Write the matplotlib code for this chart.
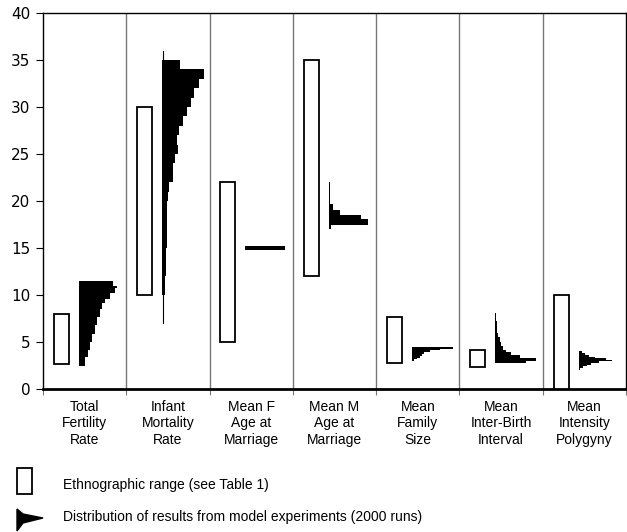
import numpy as np
import matplotlib
matplotlib.use("Agg")
import matplotlib.pyplot as plt
from matplotlib.patches import Rectangle, Polygon
from matplotlib.transforms import blended_transform_factory

# Categories (x axis)
categories = ["Total\nFertility\nRate", "Infant\nMortality\nRate", "Mean F\nAge at\nMarriage",
              "Mean M\nAge at\nMarriage", "Mean\nFamily\nSize", "Mean\nInter-Birth\nInterval",
              "Mean\nIntensity\nPolygyny"]

# Ethnographic ranges (see Table 1)
ethno_low = [2.7, 10, 5, 12, 2.8, 2.3, 0]
ethno_high = [8, 30, 22, 35, 7.7, 4.1, 10]

# Model result distributions: bin edges (y) and relative frequency per bin
tfr_edges = [2.5, 3.4, 4.1, 5.0, 5.9, 6.8, 7.7, 8.5, 9.1, 9.6, 10.2, 10.7, 11.0, 11.5]
tfr_freq = [6, 9, 11, 13, 16, 18, 21, 23, 26, 31, 36, 38, 34]

imr_edges = [10, 11, 12, 13, 14, 15, 16, 17, 18, 19, 20, 21, 22, 23, 24, 25, 26,
             27, 28, 29, 30, 31, 32, 33, 34, 35]
imr_freq = [3, 3, 3.5, 4, 4, 4.5, 4.5, 5, 5, 5, 6, 7, 11, 11, 13, 16, 15, 17, 21,
            25, 28, 31, 36, 41, 18]
imr_range = [7, 36]

fage_edges = [14.75, 15.2]
fage_freq = [39]

mage_edges = [17.0, 17.5, 18.1, 18.5, 19.0, 19.7, 22.0]
mage_freq = [2, 39, 32, 11, 4, 1.5]

fam_edges = [2.95, 3.15, 3.35, 3.55, 3.75, 3.95, 4.15, 4.3, 4.5]
fam_freq = [2, 5, 8, 9.5, 12, 18, 28, 40]

ibi_edges = [2.8, 3.0, 3.3, 3.6, 3.9, 4.2, 4.6, 5.0, 5.5, 6.0, 6.5, 7.2, 8.1]
ibi_freq = [30, 40, 24, 16, 11, 8, 6, 4.5, 3, 2, 1.5, 1]

poly_edges = [2.0, 2.2, 2.4, 2.6, 2.8, 2.95, 3.1, 3.25, 3.45, 3.65, 3.85, 4.0]
poly_freq = [1, 4, 8, 12, 20, 33, 27, 16, 10, 6, 3]

dists = [(tfr_edges, tfr_freq), (imr_edges, imr_freq), (fage_edges, fage_freq),
         (mage_edges, mage_freq), (fam_edges, fam_freq), (ibi_edges, ibi_freq),
         (poly_edges, poly_freq)]

plt.rcParams['font.family'] = ['Liberation Sans', 'DejaVu Sans']

fig = plt.figure(figsize=(6.27, 5.32), dpi=100)
ax = fig.add_axes([43 / 627, 1 - 389 / 532, 583 / 627, 376 / 532])

freq_scale = 0.5 / 41.0   # widest bin ~ half a category
for i, (lo, hi) in enumerate(zip(ethno_low, ethno_high)):
    ax.add_patch(Rectangle((i + 0.13, lo), 0.18, hi - lo, facecolor="white",
                           edgecolor="black", lw=1.3, zorder=3))
    edges, freq = dists[i]
    edges = np.array(edges)
    ax.barh(edges[:-1], np.array(freq) * freq_scale, height=np.diff(edges),
            left=i + 0.43, align="edge", color="black", lw=0, zorder=3)

# thin tails of infant mortality distribution
ax.plot([1.43 + 0.005, 1.43 + 0.005], imr_range, color="black", lw=0.8, zorder=3)

for i in range(1, 7):
    ax.axvline(i, color="#777777", lw=1, zorder=1)

ax.set_xlim(0, 7)
ax.set_ylim(0, 40)
ax.set_yticks(np.arange(0, 41, 5))
ax.set_xticks(np.arange(0, 8))
ax.set_xticklabels([])
ax.tick_params(axis="y", direction="out", length=5, labelsize=11, pad=4)
ax.tick_params(axis="x", direction="out", length=4, color="#777777")
for lab in ax.get_yticklabels():
    lab.set_family(["DejaVu Sans"])
ax.spines["bottom"].set_linewidth(2)
for s in ["left", "top", "right"]:
    ax.spines[s].set_linewidth(1)

trans = blended_transform_factory(ax.transData, ax.transAxes)
for i, lab in enumerate(categories):
    ax.text(i + 0.5, -0.028, lab, transform=trans, ha="center", va="top",
            fontsize=10, linespacing=1.25)

# legend
fig.add_artist(Rectangle((17 / 627, 1 - 494 / 532), 15 / 627, 26 / 532,
                         transform=fig.transFigure, facecolor="white",
                         edgecolor="black", lw=1.3))
fig.add_artist(Polygon([(17 / 627, 1 - 509 / 532), (23 / 627, 1 - 514 / 532),
                        (43 / 627, 1 - 518 / 532), (23 / 627, 1 - 523 / 532),
                        (17 / 627, 1 - 531 / 532)],
                       transform=fig.transFigure, facecolor="black", edgecolor="black"))
fig.text(63 / 627, 1 - 485 / 532, "Ethnographic range (see Table 1)", fontsize=10,
         va="center", ha="left")
fig.text(63 / 627, 1 - 517 / 532, "Distribution of results from model experiments (2000 runs)",
         fontsize=10, va="center", ha="left")

fig.savefig("out.png", dpi=100)
